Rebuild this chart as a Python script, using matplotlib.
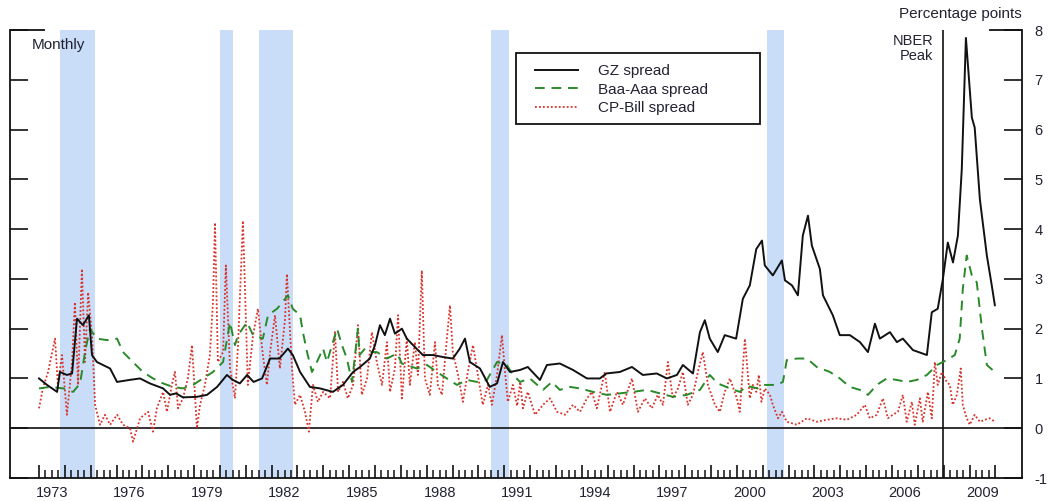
import matplotlib
matplotlib.use("Agg")
import matplotlib.pyplot as plt
import numpy as np
from matplotlib.patches import Rectangle
from matplotlib.transforms import blended_transform_factory

plt.rcParams['font.family'] = ['Liberation Sans', 'DejaVu Sans']
plt.rcParams['axes.unicode_minus'] = False

# ---- data (decimal years, percentage points) ----
gz_dates = [1973.00, 1973.31, 1973.70, 1973.81, 1974.08, 1974.28, 1974.47, 1974.70, 1974.93, 1975.05,
            1975.24, 1975.75, 1976.02, 1976.50, 1976.91, 1977.29, 1977.80, 1978.07, 1978.30, 1978.57,
            1979.10, 1979.50, 1979.89, 1980.27, 1980.50, 1980.77, 1981.05, 1981.30, 1981.63, 1981.94,
            1982.30, 1982.63, 1982.82, 1983.10, 1983.48, 1983.87, 1984.37, 1984.76, 1985.15, 1985.42,
            1985.80, 1986.00, 1986.19, 1986.38, 1986.58, 1986.77, 1987.04, 1987.23, 1987.47, 1987.85,
            1988.24, 1988.63, 1989.01, 1989.28, 1989.48, 1989.67, 1990.06, 1990.44, 1990.72, 1990.95,
            1991.22, 1991.61, 1991.91, 1992.38, 1992.65, 1993.15, 1993.66, 1994.20, 1994.70, 1994.95,
            1995.47, 1995.94, 1996.36, 1996.90, 1997.29, 1997.68, 1997.91, 1998.30, 1998.57, 1998.76,
            1998.95, 1999.26, 1999.53, 1999.97, 2000.23, 2000.50, 2000.75, 2000.97, 2001.08, 2001.39,
            2001.74, 2001.86, 2002.13, 2002.36, 2002.55, 2002.75, 2002.90, 2003.21, 2003.33, 2003.71,
            2003.98, 2004.37, 2004.76, 2005.07, 2005.34, 2005.53, 2005.92, 2006.19, 2006.42, 2006.81,
            2007.35, 2007.54, 2007.77, 2007.97, 2008.16, 2008.36, 2008.55, 2008.70, 2008.86, 2009.09,
            2009.20, 2009.40, 2009.67, 2009.86, 2009.98]
gz_spread = [1.00, 0.87, 0.73, 1.13, 1.07, 1.10, 2.20, 2.07, 2.27, 1.47,
             1.33, 1.20, 0.93, 0.97, 1.00, 0.90, 0.80, 0.67, 0.70, 0.62,
             0.63, 0.67, 0.83, 1.07, 0.97, 0.90, 1.07, 0.93, 1.00, 1.40,
             1.40, 1.60, 1.47, 1.13, 0.83, 0.80, 0.73, 0.87, 1.13, 1.23,
             1.40, 1.67, 2.07, 1.87, 2.20, 1.90, 2.00, 1.80, 1.67, 1.47,
             1.47, 1.43, 1.40, 1.60, 1.80, 1.33, 1.20, 0.83, 0.90, 1.33,
             1.13, 1.17, 1.23, 0.97, 1.27, 1.30, 1.17, 1.00, 1.00, 1.10,
             1.13, 1.23, 1.07, 1.10, 1.00, 1.07, 1.27, 1.10, 1.93, 2.17,
             1.80, 1.53, 1.87, 1.80, 2.60, 2.87, 3.60, 3.77, 3.27, 3.07,
             3.37, 2.97, 2.87, 2.67, 3.87, 4.27, 3.67, 3.20, 2.67, 2.27,
             1.87, 1.87, 1.73, 1.53, 2.10, 1.80, 1.93, 1.73, 1.80, 1.57,
             1.47, 2.33, 2.40, 3.00, 3.73, 3.33, 3.87, 5.20, 7.84, 6.24,
             6.04, 4.60, 3.47, 2.87, 2.47]

baa_dates = [1973.00, 1973.43, 1973.93, 1974.32, 1974.59, 1974.78, 1974.97, 1975.24, 1975.63, 1976.02,
             1976.25, 1976.63, 1977.02, 1977.41, 1977.80, 1978.18, 1978.57, 1978.96, 1979.34, 1979.73,
             1980.12, 1980.39, 1980.58, 1980.70, 1981.05, 1981.28, 1981.66, 1981.86, 1982.21, 1982.63,
             1982.82, 1983.10, 1983.21, 1983.37, 1983.56, 1983.75, 1983.99, 1984.14, 1984.53, 1984.72,
             1984.91, 1985.11, 1985.34, 1985.40, 1985.61, 1985.80, 1986.07, 1986.46, 1986.85, 1987.04,
             1987.62, 1988.01, 1988.39, 1988.78, 1989.17, 1989.56, 1989.94, 1990.33, 1990.72, 1991.10,
             1991.34, 1991.61, 1991.99, 1992.50, 1992.84, 1993.15, 1993.54, 1993.93, 1994.43, 1994.97,
             1995.47, 1995.98, 1996.52, 1997.02, 1997.53, 1998.06, 1998.57, 1998.95, 1999.26, 1999.73,
             2000.11, 2000.39, 2000.80, 2001.00, 2001.55, 2001.78, 2001.93, 2002.32, 2002.71, 2003.09,
             2003.60, 2003.98, 2004.37, 2004.76, 2005.07, 2005.41, 2005.80, 2006.19, 2006.57, 2006.96,
             2007.35, 2007.74, 2008.12, 2008.43, 2008.62, 2008.74, 2008.89, 2009.09, 2009.28, 2009.48,
             2009.67, 2009.98]
baa_aaa_spread = [0.80, 0.83, 0.80, 0.73, 0.90, 1.53, 2.00, 1.80, 1.77, 1.80,
                  1.53, 1.33, 1.13, 1.00, 0.90, 0.83, 0.80, 0.87, 1.00, 1.13,
                  1.33, 2.13, 1.67, 1.87, 2.13, 1.87, 1.80, 2.27, 2.40, 2.67,
                  2.40, 2.27, 1.93, 1.53, 1.13, 1.33, 1.60, 1.33, 2.00, 1.67,
                  1.40, 0.93, 2.00, 1.47, 1.60, 1.53, 1.53, 1.40, 1.50, 1.30,
                  1.20, 1.27, 1.13, 1.00, 0.87, 0.97, 0.93, 0.97, 1.33, 1.27,
                  1.07, 0.93, 1.00, 0.77, 0.93, 0.77, 0.83, 0.80, 0.73, 0.67,
                  0.70, 0.73, 0.77, 0.70, 0.63, 0.67, 0.77, 1.07, 0.90, 0.80,
                  0.73, 0.85, 0.80, 0.87, 0.87, 0.93, 1.37, 1.40, 1.40, 1.23,
                  1.13, 1.00, 0.83, 0.77, 0.67, 0.87, 1.00, 0.97, 0.93, 0.97,
                  1.07, 1.27, 1.37, 1.47, 1.80, 2.80, 3.47, 3.07, 2.93, 2.00,
                  1.27, 1.13]

cp_dates = [1973.00, 1973.15, 1973.35, 1973.62, 1973.73, 1973.89, 1974.08, 1974.28, 1974.39, 1974.51,
            1974.66, 1974.78, 1974.90, 1975.05, 1975.17, 1975.36, 1975.55, 1975.75, 1976.02, 1976.25,
            1976.52, 1976.64, 1976.91, 1977.22, 1977.41, 1977.56, 1977.80, 1977.95, 1978.14, 1978.26,
            1978.38, 1978.57, 1978.76, 1978.92, 1979.11, 1979.23, 1979.42, 1979.61, 1979.73, 1979.81,
            1979.92, 1980.12, 1980.23, 1980.39, 1980.58, 1980.70, 1980.89, 1981.08, 1981.28, 1981.47,
            1981.66, 1981.82, 1981.94, 1982.01, 1982.13, 1982.32, 1982.52, 1982.59, 1982.79, 1982.90,
            1983.10, 1983.29, 1983.44, 1983.60, 1983.79, 1983.99, 1984.26, 1984.45, 1984.57, 1984.76,
            1984.95, 1985.15, 1985.34, 1985.49, 1985.69, 1985.88, 1986.07, 1986.27, 1986.46, 1986.58,
            1986.77, 1986.89, 1987.04, 1987.23, 1987.35, 1987.54, 1987.66, 1987.81, 1987.93, 1988.12,
            1988.32, 1988.43, 1988.59, 1988.78, 1988.90, 1989.01, 1989.21, 1989.40, 1989.59, 1989.79,
            1989.98, 1990.17, 1990.37, 1990.52, 1990.72, 1990.91, 1991.03, 1991.14, 1991.33, 1991.50,
            1991.62, 1991.72, 1991.91, 1992.19, 1992.50, 1992.77, 1993.04, 1993.35, 1993.66, 1993.93,
            1994.20, 1994.39, 1994.58, 1994.89, 1995.09, 1995.36, 1995.59, 1995.94, 1996.17, 1996.44,
            1996.71, 1996.94, 1997.14, 1997.33, 1997.52, 1997.72, 1997.91, 1998.10, 1998.30, 1998.49,
            1998.68, 1998.88, 1999.15, 1999.34, 1999.53, 1999.73, 2000.00, 2000.11, 2000.31, 2000.50,
            2000.62, 2000.75, 2000.85, 2000.95, 2001.08, 2001.28, 2001.39, 2001.59, 2001.74, 2001.93,
            2002.32, 2002.71, 2003.09, 2003.48, 2003.87, 2004.25, 2004.64, 2004.95, 2005.14, 2005.41,
            2005.65, 2005.84, 2006.03, 2006.23, 2006.42, 2006.57, 2006.77, 2006.88, 2007.08, 2007.19,
            2007.39, 2007.54, 2007.66, 2007.77, 2007.93, 2008.12, 2008.24, 2008.35, 2008.51, 2008.66,
            2008.74, 2008.89, 2009.01, 2009.20, 2009.40, 2009.59, 2009.78, 2009.98]
cp_bill_spread = [0.40, 0.80, 1.13, 1.80, 0.87, 1.47, 0.27, 1.33, 2.53, 0.87,
                  3.20, 1.33, 2.73, 1.87, 0.47, 0.07, 0.27, 0.07, 0.27, 0.07,
                  0.00, -0.27, 0.20, 0.33, -0.07, 0.40, 0.73, 0.33, 0.87, 1.13,
                  0.40, 0.60, 1.00, 1.67, 0.00, 0.47, 0.87, 1.47, 2.53, 4.13,
                  1.33, 1.53, 3.27, 1.20, 0.60, 1.67, 4.17, 0.87, 1.87, 2.40,
                  1.47, 0.87, 1.53, 1.80, 2.27, 1.20, 2.20, 3.10, 1.20, 0.47,
                  0.67, 0.33, -0.07, 0.87, 0.53, 0.73, 0.60, 1.93, 0.73, 0.93,
                  0.60, 0.87, 2.07, 0.67, 1.00, 1.93, 1.33, 0.87, 1.73, 0.73,
                  1.20, 2.27, 0.60, 1.80, 0.87, 1.73, 1.07, 3.17, 1.00, 0.67,
                  1.73, 0.87, 0.67, 1.80, 2.47, 1.53, 1.07, 0.53, 1.13, 1.67,
                  1.07, 0.47, 0.87, 0.47, 1.07, 1.87, 1.13, 0.53, 0.87, 0.45,
                  0.93, 0.40, 0.73, 0.27, 0.47, 0.60, 0.33, 0.27, 0.47, 0.33,
                  0.60, 0.73, 0.40, 1.13, 0.33, 0.73, 0.47, 1.00, 0.33, 0.60,
                  0.40, 0.67, 0.47, 1.33, 0.60, 0.80, 1.13, 0.47, 0.67, 1.13,
                  1.53, 0.87, 0.47, 0.33, 0.73, 1.00, 0.60, 0.33, 1.80, 0.60,
                  0.87, 0.73, 1.07, 0.53, 0.80, 0.67, 0.47, 0.20, 0.33, 0.13,
                  0.07, 0.20, 0.13, 0.17, 0.20, 0.17, 0.27, 0.47, 0.20, 0.27,
                  0.60, 0.20, 0.27, 0.33, 0.67, 0.13, 0.53, 0.07, 0.60, 0.13,
                  0.73, 0.20, 1.33, 0.87, 1.13, 0.93, 0.87, 0.47, 0.67, 1.20,
                  0.47, 0.20, 0.07, 0.27, 0.13, 0.17, 0.20, 0.13]

recession_starts = [1973.83, 1980.00, 1981.50, 1990.50, 2001.17]
recession_ends = [1975.17, 1980.50, 1982.83, 1991.17, 2001.83]
nber_peak = 2007.96
year_labels = list(range(1973, 2010, 3))
series_labels = ["GZ spread", "Baa-Aaa spread", "CP-Bill spread"]

# ---- figure ----
W, H = 1049, 501
fig = plt.figure(figsize=(W / 100, H / 100), dpi=100)
ax = fig.add_axes([10 / W, 23 / H, 1012 / W, 448 / H])

ink = "#111111"
for a, b in zip(recession_starts, recession_ends):
    ax.axvspan(a, b, color="#c9ddf9", lw=0, zorder=0)

ax.axhline(0, color=ink, lw=1.2, zorder=1)
ax.axvline(nber_peak, color=ink, lw=1.2, zorder=1)

cp_line, = ax.plot(cp_dates, cp_bill_spread, color="#d8322a", lw=1.3,
                   linestyle=(0, (1, 1.2)), zorder=2)
baa_line, = ax.plot(baa_dates, baa_aaa_spread, color="#2a8a2a", lw=1.4,
                    linestyle=(0, (5, 3.5)), zorder=3)
gz_line, = ax.plot(gz_dates, gz_spread, color="#111111", lw=1.4, zorder=4)

ax.set_xlim(1971.878, 2011.03)
ax.set_ylim(-1, 8)

# axes frame: open top with short stubs at each corner
for side in ("left", "right", "bottom"):
    ax.spines[side].set_linewidth(1.3)
    ax.spines[side].set_color(ink)
ax.spines["top"].set_visible(False)
ax.plot([0, 35 / 1012], [1, 1], transform=ax.transAxes, color=ink, lw=1.3,
        clip_on=False, solid_capstyle="butt")
ax.plot([1 - 33 / 1012, 1], [1, 1], transform=ax.transAxes, color=ink, lw=1.3,
        clip_on=False, solid_capstyle="butt")

# y axis: inward ticks on both sides, labels on the right
ax.set_yticks(np.arange(-1, 9, 1))
ax.yaxis.set_ticks_position("both")
ax.tick_params(axis="y", which="major", direction="in", length=13, width=1.2,
               color=ink, labelleft=False, labelright=True, pad=9,
               labelsize=10.5, labelcolor="#222233")

# x axis: yearly and quarterly inward ticks, year labels centred mid-year
ax.set_xticks(np.arange(1973, 2011, 1))
ax.set_xticks([q for q in np.arange(1973, 2010.01, 0.25) if q % 1 != 0], minor=True)
ax.tick_params(axis="x", which="major", direction="in", length=9.5, width=1.2,
               color=ink, labelbottom=False)
ax.tick_params(axis="x", which="minor", direction="in", length=6, width=1.1,
               color=ink)
bt = blended_transform_factory(ax.transData, ax.transAxes)
for yr in year_labels:
    ax.text(yr + 0.5, -0.018, str(yr), transform=bt, ha="center", va="top",
            fontsize=10.5, color="#222233")

# annotations
ax.text(22 / 1012, (478 - 45) / 448, "Monthly", transform=ax.transAxes,
        ha="left", va="center", fontsize=11, color="#222233")
ax.text(1.0, (478 - 14) / 448, "Percentage points", transform=ax.transAxes,
        ha="right", va="center", fontsize=11, color="#222233")
ax.text(nber_peak - 0.35, (478 - 34) / 448, "NBER\nPeak", transform=bt,
        ha="right", va="top", multialignment="right", fontsize=10.5,
        color="#222233", linespacing=1.05)

# legend with a square frame drawn separately
ax.add_patch(Rectangle((506 / 1012, (478 - 124) / 448), 244 / 1012, 71 / 448,
                       transform=ax.transAxes, fill=True, facecolor="white",
                       edgecolor=ink, lw=1.3, zorder=5))
leg = ax.legend([gz_line, baa_line, cp_line], series_labels,
                loc="upper left", bbox_to_anchor=(525 / 1012, (478 - 64) / 448),
                frameon=False, borderpad=0, borderaxespad=0, fontsize=11,
                handlelength=2.8, handletextpad=1.3, labelspacing=0.3)
leg.set_zorder(6)
for t in leg.get_texts():
    t.set_color("#222233")

fig.savefig("out.png", dpi=100)
